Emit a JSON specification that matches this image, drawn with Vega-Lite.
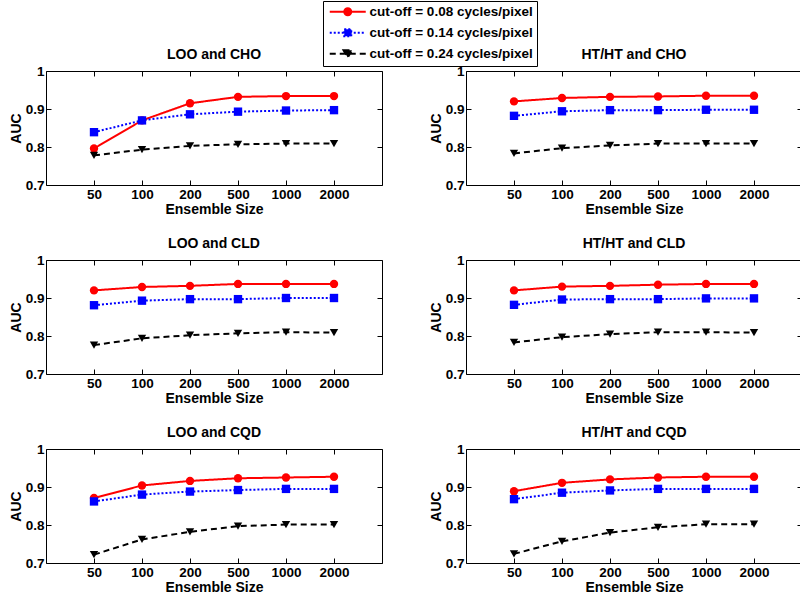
{
  "$schema": "https://vega.github.io/schema/vega-lite/v6.json",
  "padding": {"left": 8, "top": 0, "right": 0, "bottom": 0},
  "background": "white",
  "data": {"values": [
    {"panel":"LOO and CHO","cutoff":0.08,"size":50,"auc":0.796},
    {"panel":"LOO and CHO","cutoff":0.08,"size":100,"auc":0.870},
    {"panel":"LOO and CHO","cutoff":0.08,"size":200,"auc":0.915},
    {"panel":"LOO and CHO","cutoff":0.08,"size":500,"auc":0.932},
    {"panel":"LOO and CHO","cutoff":0.08,"size":1000,"auc":0.934},
    {"panel":"LOO and CHO","cutoff":0.08,"size":2000,"auc":0.934},
    {"panel":"LOO and CHO","cutoff":0.14,"size":50,"auc":0.839},
    {"panel":"LOO and CHO","cutoff":0.14,"size":100,"auc":0.870},
    {"panel":"LOO and CHO","cutoff":0.14,"size":200,"auc":0.886},
    {"panel":"LOO and CHO","cutoff":0.14,"size":500,"auc":0.893},
    {"panel":"LOO and CHO","cutoff":0.14,"size":1000,"auc":0.896},
    {"panel":"LOO and CHO","cutoff":0.14,"size":2000,"auc":0.897},
    {"panel":"LOO and CHO","cutoff":0.24,"size":50,"auc":0.778},
    {"panel":"LOO and CHO","cutoff":0.24,"size":100,"auc":0.793},
    {"panel":"LOO and CHO","cutoff":0.24,"size":200,"auc":0.803},
    {"panel":"LOO and CHO","cutoff":0.24,"size":500,"auc":0.807},
    {"panel":"LOO and CHO","cutoff":0.24,"size":1000,"auc":0.809},
    {"panel":"LOO and CHO","cutoff":0.24,"size":2000,"auc":0.809},
    {"panel":"HT/HT and CHO","cutoff":0.08,"size":50,"auc":0.920},
    {"panel":"HT/HT and CHO","cutoff":0.08,"size":100,"auc":0.929},
    {"panel":"HT/HT and CHO","cutoff":0.08,"size":200,"auc":0.932},
    {"panel":"HT/HT and CHO","cutoff":0.08,"size":500,"auc":0.933},
    {"panel":"HT/HT and CHO","cutoff":0.08,"size":1000,"auc":0.935},
    {"panel":"HT/HT and CHO","cutoff":0.08,"size":2000,"auc":0.935},
    {"panel":"HT/HT and CHO","cutoff":0.14,"size":50,"auc":0.882},
    {"panel":"HT/HT and CHO","cutoff":0.14,"size":100,"auc":0.894},
    {"panel":"HT/HT and CHO","cutoff":0.14,"size":200,"auc":0.897},
    {"panel":"HT/HT and CHO","cutoff":0.14,"size":500,"auc":0.897},
    {"panel":"HT/HT and CHO","cutoff":0.14,"size":1000,"auc":0.898},
    {"panel":"HT/HT and CHO","cutoff":0.14,"size":2000,"auc":0.898},
    {"panel":"HT/HT and CHO","cutoff":0.24,"size":50,"auc":0.783},
    {"panel":"HT/HT and CHO","cutoff":0.24,"size":100,"auc":0.797},
    {"panel":"HT/HT and CHO","cutoff":0.24,"size":200,"auc":0.804},
    {"panel":"HT/HT and CHO","cutoff":0.24,"size":500,"auc":0.809},
    {"panel":"HT/HT and CHO","cutoff":0.24,"size":1000,"auc":0.809},
    {"panel":"HT/HT and CHO","cutoff":0.24,"size":2000,"auc":0.809},
    {"panel":"LOO and CLD","cutoff":0.08,"size":50,"auc":0.920},
    {"panel":"LOO and CLD","cutoff":0.08,"size":100,"auc":0.929},
    {"panel":"LOO and CLD","cutoff":0.08,"size":200,"auc":0.932},
    {"panel":"LOO and CLD","cutoff":0.08,"size":500,"auc":0.937},
    {"panel":"LOO and CLD","cutoff":0.08,"size":1000,"auc":0.937},
    {"panel":"LOO and CLD","cutoff":0.08,"size":2000,"auc":0.937},
    {"panel":"LOO and CLD","cutoff":0.14,"size":50,"auc":0.881},
    {"panel":"LOO and CLD","cutoff":0.14,"size":100,"auc":0.893},
    {"panel":"LOO and CLD","cutoff":0.14,"size":200,"auc":0.897},
    {"panel":"LOO and CLD","cutoff":0.14,"size":500,"auc":0.897},
    {"panel":"LOO and CLD","cutoff":0.14,"size":1000,"auc":0.900},
    {"panel":"LOO and CLD","cutoff":0.14,"size":2000,"auc":0.900},
    {"panel":"LOO and CLD","cutoff":0.24,"size":50,"auc":0.776},
    {"panel":"LOO and CLD","cutoff":0.24,"size":100,"auc":0.794},
    {"panel":"LOO and CLD","cutoff":0.24,"size":200,"auc":0.802},
    {"panel":"LOO and CLD","cutoff":0.24,"size":500,"auc":0.807},
    {"panel":"LOO and CLD","cutoff":0.24,"size":1000,"auc":0.810},
    {"panel":"LOO and CLD","cutoff":0.24,"size":2000,"auc":0.809},
    {"panel":"HT/HT and CLD","cutoff":0.08,"size":50,"auc":0.920},
    {"panel":"HT/HT and CLD","cutoff":0.08,"size":100,"auc":0.930},
    {"panel":"HT/HT and CLD","cutoff":0.08,"size":200,"auc":0.932},
    {"panel":"HT/HT and CLD","cutoff":0.08,"size":500,"auc":0.935},
    {"panel":"HT/HT and CLD","cutoff":0.08,"size":1000,"auc":0.937},
    {"panel":"HT/HT and CLD","cutoff":0.08,"size":2000,"auc":0.937},
    {"panel":"HT/HT and CLD","cutoff":0.14,"size":50,"auc":0.882},
    {"panel":"HT/HT and CLD","cutoff":0.14,"size":100,"auc":0.896},
    {"panel":"HT/HT and CLD","cutoff":0.14,"size":200,"auc":0.897},
    {"panel":"HT/HT and CLD","cutoff":0.14,"size":500,"auc":0.897},
    {"panel":"HT/HT and CLD","cutoff":0.14,"size":1000,"auc":0.899},
    {"panel":"HT/HT and CLD","cutoff":0.14,"size":2000,"auc":0.899},
    {"panel":"HT/HT and CLD","cutoff":0.24,"size":50,"auc":0.783},
    {"panel":"HT/HT and CLD","cutoff":0.24,"size":100,"auc":0.797},
    {"panel":"HT/HT and CLD","cutoff":0.24,"size":200,"auc":0.805},
    {"panel":"HT/HT and CLD","cutoff":0.24,"size":500,"auc":0.810},
    {"panel":"HT/HT and CLD","cutoff":0.24,"size":1000,"auc":0.810},
    {"panel":"HT/HT and CLD","cutoff":0.24,"size":2000,"auc":0.809},
    {"panel":"LOO and CQD","cutoff":0.08,"size":50,"auc":0.871},
    {"panel":"LOO and CQD","cutoff":0.08,"size":100,"auc":0.904},
    {"panel":"LOO and CQD","cutoff":0.08,"size":200,"auc":0.916},
    {"panel":"LOO and CQD","cutoff":0.08,"size":500,"auc":0.923},
    {"panel":"LOO and CQD","cutoff":0.08,"size":1000,"auc":0.925},
    {"panel":"LOO and CQD","cutoff":0.08,"size":2000,"auc":0.927},
    {"panel":"LOO and CQD","cutoff":0.14,"size":50,"auc":0.862},
    {"panel":"LOO and CQD","cutoff":0.14,"size":100,"auc":0.880},
    {"panel":"LOO and CQD","cutoff":0.14,"size":200,"auc":0.888},
    {"panel":"LOO and CQD","cutoff":0.14,"size":500,"auc":0.892},
    {"panel":"LOO and CQD","cutoff":0.14,"size":1000,"auc":0.895},
    {"panel":"LOO and CQD","cutoff":0.14,"size":2000,"auc":0.895},
    {"panel":"LOO and CQD","cutoff":0.24,"size":50,"auc":0.722},
    {"panel":"LOO and CQD","cutoff":0.24,"size":100,"auc":0.762},
    {"panel":"LOO and CQD","cutoff":0.24,"size":200,"auc":0.782},
    {"panel":"LOO and CQD","cutoff":0.24,"size":500,"auc":0.797},
    {"panel":"LOO and CQD","cutoff":0.24,"size":1000,"auc":0.801},
    {"panel":"LOO and CQD","cutoff":0.24,"size":2000,"auc":0.801},
    {"panel":"HT/HT and CQD","cutoff":0.08,"size":50,"auc":0.889},
    {"panel":"HT/HT and CQD","cutoff":0.08,"size":100,"auc":0.911},
    {"panel":"HT/HT and CQD","cutoff":0.08,"size":200,"auc":0.920},
    {"panel":"HT/HT and CQD","cutoff":0.08,"size":500,"auc":0.925},
    {"panel":"HT/HT and CQD","cutoff":0.08,"size":1000,"auc":0.927},
    {"panel":"HT/HT and CQD","cutoff":0.08,"size":2000,"auc":0.927},
    {"panel":"HT/HT and CQD","cutoff":0.14,"size":50,"auc":0.868},
    {"panel":"HT/HT and CQD","cutoff":0.14,"size":100,"auc":0.885},
    {"panel":"HT/HT and CQD","cutoff":0.14,"size":200,"auc":0.891},
    {"panel":"HT/HT and CQD","cutoff":0.14,"size":500,"auc":0.895},
    {"panel":"HT/HT and CQD","cutoff":0.14,"size":1000,"auc":0.895},
    {"panel":"HT/HT and CQD","cutoff":0.14,"size":2000,"auc":0.895},
    {"panel":"HT/HT and CQD","cutoff":0.24,"size":50,"auc":0.724},
    {"panel":"HT/HT and CQD","cutoff":0.24,"size":100,"auc":0.757},
    {"panel":"HT/HT and CQD","cutoff":0.24,"size":200,"auc":0.780},
    {"panel":"HT/HT and CQD","cutoff":0.24,"size":500,"auc":0.794},
    {"panel":"HT/HT and CQD","cutoff":0.24,"size":1000,"auc":0.802},
    {"panel":"HT/HT and CQD","cutoff":0.24,"size":2000,"auc":0.802}
  ]},
  "columns": 2,
  "spacing": {"row": 75, "column": 84},
  "bounds": "flush",
  "concat": [
    {"title": {"text": "LOO and CHO"}, "width": 336, "height": 114,
     "transform": [{"filter": {"field": "panel", "equal": "LOO and CHO"}}],
     "layer": [
       {"encoding": {
          "x": {"field": "size", "type": "ordinal", "scale": {"type": "point", "padding": 1}, "title": "Ensemble Size", "axis": {"labelAngle": 0}},
          "y": {"field": "auc", "type": "quantitative", "scale": {"domain": [0.7, 1]}, "title": "AUC", "axis": {"values": [0.7, 0.8, 0.9, 1], "format": "~g"}},
          "color": {"field": "cutoff", "type": "nominal", "scale": {"domain": [0.08, 0.14, 0.24], "range": ["#ff0000", "#0000ff", "#000000"]},
            "legend": {"title": null, "orient": "none", "legendX": 277, "legendY": -70,
              "labelExpr": "'cut-off = ' + format(datum.value, '.2f') + ' cycles/pixel'",
              "encode": {"symbols": {"update": {
                "shape": {"signal": "datum.value == 0.08 ? 'M-3.6,0H3.6M-0.7,0A0.7,0.7,0,1,0,0.7,0A0.7,0.7,0,1,0,-0.7,0Z' : datum.value == 0.14 ? 'M-3.6,0H3.6M-0.7,-0.7H0.7V0.7H-0.7Z' : 'M-3.6,0H3.6M-0.85,-0.7H0.85L0,0.75Z'"},
                "strokeDash": {"signal": "datum.value == 0.08 ? [] : datum.value == 0.14 ? [2,2] : [6,4]"},
                "fill": {"scale": "color", "field": "value"},
                "stroke": {"scale": "color", "field": "value"}}}}}}
        },
        "layer": [
          {"mark": {"type": "line", "strokeWidth": 2}, "encoding": {"strokeDash": {"condition": [{"test": "datum.cutoff == 0.14", "value": [2, 2]}, {"test": "datum.cutoff == 0.24", "value": [6, 4]}], "value": [1, 0]}}},
          {"mark": {"type": "point", "filled": true, "opacity": 1, "size": 70}, "encoding": {"shape": {"condition": [{"test": "datum.cutoff == 0.08", "value": "circle"}, {"test": "datum.cutoff == 0.14", "value": "square"}], "value": "triangle-down"}}}
        ]},
       {"mark": {"type": "point", "opacity": 0},
        "encoding": {
          "x": {"field": "size", "type": "ordinal", "scale": {"type": "point", "padding": 1}, "axis": {"orient": "top", "labels": false, "title": null}},
          "y": {"field": "auc", "type": "quantitative", "scale": {"domain": [0.7, 1]}, "axis": {"orient": "right", "labels": false, "title": null, "values": [0.7, 0.8, 0.9, 1]}}}}
     ],
     "resolve": {"axis": {"x": "independent", "y": "independent"}}},
    {"title": {"text": "HT/HT and CHO"}, "width": 336, "height": 114,
     "transform": [{"filter": {"field": "panel", "equal": "HT/HT and CHO"}}],
     "layer": [
       {"encoding": {
          "x": {"field": "size", "type": "ordinal", "scale": {"type": "point", "padding": 1}, "title": "Ensemble Size", "axis": {"labelAngle": 0}},
          "y": {"field": "auc", "type": "quantitative", "scale": {"domain": [0.7, 1]}, "title": "AUC", "axis": {"values": [0.7, 0.8, 0.9, 1], "format": "~g"}},
          "color": {"field": "cutoff", "type": "nominal", "scale": {"domain": [0.08, 0.14, 0.24], "range": ["#ff0000", "#0000ff", "#000000"]},
            "legend": {"title": null, "orient": "none", "legendX": 277, "legendY": -70,
              "labelExpr": "'cut-off = ' + format(datum.value, '.2f') + ' cycles/pixel'",
              "encode": {"symbols": {"update": {
                "shape": {"signal": "datum.value == 0.08 ? 'M-3.6,0H3.6M-0.7,0A0.7,0.7,0,1,0,0.7,0A0.7,0.7,0,1,0,-0.7,0Z' : datum.value == 0.14 ? 'M-3.6,0H3.6M-0.7,-0.7H0.7V0.7H-0.7Z' : 'M-3.6,0H3.6M-0.85,-0.7H0.85L0,0.75Z'"},
                "strokeDash": {"signal": "datum.value == 0.08 ? [] : datum.value == 0.14 ? [2,2] : [6,4]"},
                "fill": {"scale": "color", "field": "value"},
                "stroke": {"scale": "color", "field": "value"}}}}}}
        },
        "layer": [
          {"mark": {"type": "line", "strokeWidth": 2}, "encoding": {"strokeDash": {"condition": [{"test": "datum.cutoff == 0.14", "value": [2, 2]}, {"test": "datum.cutoff == 0.24", "value": [6, 4]}], "value": [1, 0]}}},
          {"mark": {"type": "point", "filled": true, "opacity": 1, "size": 70}, "encoding": {"shape": {"condition": [{"test": "datum.cutoff == 0.08", "value": "circle"}, {"test": "datum.cutoff == 0.14", "value": "square"}], "value": "triangle-down"}}}
        ]},
       {"mark": {"type": "point", "opacity": 0},
        "encoding": {
          "x": {"field": "size", "type": "ordinal", "scale": {"type": "point", "padding": 1}, "axis": {"orient": "top", "labels": false, "title": null}},
          "y": {"field": "auc", "type": "quantitative", "scale": {"domain": [0.7, 1]}, "axis": {"orient": "right", "labels": false, "title": null, "values": [0.7, 0.8, 0.9, 1]}}}}
     ],
     "resolve": {"axis": {"x": "independent", "y": "independent"}}},
    {"title": {"text": "LOO and CLD"}, "width": 336, "height": 114,
     "transform": [{"filter": {"field": "panel", "equal": "LOO and CLD"}}],
     "layer": [
       {"encoding": {
          "x": {"field": "size", "type": "ordinal", "scale": {"type": "point", "padding": 1}, "title": "Ensemble Size", "axis": {"labelAngle": 0}},
          "y": {"field": "auc", "type": "quantitative", "scale": {"domain": [0.7, 1]}, "title": "AUC", "axis": {"values": [0.7, 0.8, 0.9, 1], "format": "~g"}},
          "color": {"field": "cutoff", "type": "nominal", "scale": {"domain": [0.08, 0.14, 0.24], "range": ["#ff0000", "#0000ff", "#000000"]},
            "legend": {"title": null, "orient": "none", "legendX": 277, "legendY": -70,
              "labelExpr": "'cut-off = ' + format(datum.value, '.2f') + ' cycles/pixel'",
              "encode": {"symbols": {"update": {
                "shape": {"signal": "datum.value == 0.08 ? 'M-3.6,0H3.6M-0.7,0A0.7,0.7,0,1,0,0.7,0A0.7,0.7,0,1,0,-0.7,0Z' : datum.value == 0.14 ? 'M-3.6,0H3.6M-0.7,-0.7H0.7V0.7H-0.7Z' : 'M-3.6,0H3.6M-0.85,-0.7H0.85L0,0.75Z'"},
                "strokeDash": {"signal": "datum.value == 0.08 ? [] : datum.value == 0.14 ? [2,2] : [6,4]"},
                "fill": {"scale": "color", "field": "value"},
                "stroke": {"scale": "color", "field": "value"}}}}}}
        },
        "layer": [
          {"mark": {"type": "line", "strokeWidth": 2}, "encoding": {"strokeDash": {"condition": [{"test": "datum.cutoff == 0.14", "value": [2, 2]}, {"test": "datum.cutoff == 0.24", "value": [6, 4]}], "value": [1, 0]}}},
          {"mark": {"type": "point", "filled": true, "opacity": 1, "size": 70}, "encoding": {"shape": {"condition": [{"test": "datum.cutoff == 0.08", "value": "circle"}, {"test": "datum.cutoff == 0.14", "value": "square"}], "value": "triangle-down"}}}
        ]},
       {"mark": {"type": "point", "opacity": 0},
        "encoding": {
          "x": {"field": "size", "type": "ordinal", "scale": {"type": "point", "padding": 1}, "axis": {"orient": "top", "labels": false, "title": null}},
          "y": {"field": "auc", "type": "quantitative", "scale": {"domain": [0.7, 1]}, "axis": {"orient": "right", "labels": false, "title": null, "values": [0.7, 0.8, 0.9, 1]}}}}
     ],
     "resolve": {"axis": {"x": "independent", "y": "independent"}}},
    {"title": {"text": "HT/HT and CLD"}, "width": 336, "height": 114,
     "transform": [{"filter": {"field": "panel", "equal": "HT/HT and CLD"}}],
     "layer": [
       {"encoding": {
          "x": {"field": "size", "type": "ordinal", "scale": {"type": "point", "padding": 1}, "title": "Ensemble Size", "axis": {"labelAngle": 0}},
          "y": {"field": "auc", "type": "quantitative", "scale": {"domain": [0.7, 1]}, "title": "AUC", "axis": {"values": [0.7, 0.8, 0.9, 1], "format": "~g"}},
          "color": {"field": "cutoff", "type": "nominal", "scale": {"domain": [0.08, 0.14, 0.24], "range": ["#ff0000", "#0000ff", "#000000"]},
            "legend": {"title": null, "orient": "none", "legendX": 277, "legendY": -70,
              "labelExpr": "'cut-off = ' + format(datum.value, '.2f') + ' cycles/pixel'",
              "encode": {"symbols": {"update": {
                "shape": {"signal": "datum.value == 0.08 ? 'M-3.6,0H3.6M-0.7,0A0.7,0.7,0,1,0,0.7,0A0.7,0.7,0,1,0,-0.7,0Z' : datum.value == 0.14 ? 'M-3.6,0H3.6M-0.7,-0.7H0.7V0.7H-0.7Z' : 'M-3.6,0H3.6M-0.85,-0.7H0.85L0,0.75Z'"},
                "strokeDash": {"signal": "datum.value == 0.08 ? [] : datum.value == 0.14 ? [2,2] : [6,4]"},
                "fill": {"scale": "color", "field": "value"},
                "stroke": {"scale": "color", "field": "value"}}}}}}
        },
        "layer": [
          {"mark": {"type": "line", "strokeWidth": 2}, "encoding": {"strokeDash": {"condition": [{"test": "datum.cutoff == 0.14", "value": [2, 2]}, {"test": "datum.cutoff == 0.24", "value": [6, 4]}], "value": [1, 0]}}},
          {"mark": {"type": "point", "filled": true, "opacity": 1, "size": 70}, "encoding": {"shape": {"condition": [{"test": "datum.cutoff == 0.08", "value": "circle"}, {"test": "datum.cutoff == 0.14", "value": "square"}], "value": "triangle-down"}}}
        ]},
       {"mark": {"type": "point", "opacity": 0},
        "encoding": {
          "x": {"field": "size", "type": "ordinal", "scale": {"type": "point", "padding": 1}, "axis": {"orient": "top", "labels": false, "title": null}},
          "y": {"field": "auc", "type": "quantitative", "scale": {"domain": [0.7, 1]}, "axis": {"orient": "right", "labels": false, "title": null, "values": [0.7, 0.8, 0.9, 1]}}}}
     ],
     "resolve": {"axis": {"x": "independent", "y": "independent"}}},
    {"title": {"text": "LOO and CQD"}, "width": 336, "height": 114,
     "transform": [{"filter": {"field": "panel", "equal": "LOO and CQD"}}],
     "layer": [
       {"encoding": {
          "x": {"field": "size", "type": "ordinal", "scale": {"type": "point", "padding": 1}, "title": "Ensemble Size", "axis": {"labelAngle": 0}},
          "y": {"field": "auc", "type": "quantitative", "scale": {"domain": [0.7, 1]}, "title": "AUC", "axis": {"values": [0.7, 0.8, 0.9, 1], "format": "~g"}},
          "color": {"field": "cutoff", "type": "nominal", "scale": {"domain": [0.08, 0.14, 0.24], "range": ["#ff0000", "#0000ff", "#000000"]},
            "legend": {"title": null, "orient": "none", "legendX": 277, "legendY": -70,
              "labelExpr": "'cut-off = ' + format(datum.value, '.2f') + ' cycles/pixel'",
              "encode": {"symbols": {"update": {
                "shape": {"signal": "datum.value == 0.08 ? 'M-3.6,0H3.6M-0.7,0A0.7,0.7,0,1,0,0.7,0A0.7,0.7,0,1,0,-0.7,0Z' : datum.value == 0.14 ? 'M-3.6,0H3.6M-0.7,-0.7H0.7V0.7H-0.7Z' : 'M-3.6,0H3.6M-0.85,-0.7H0.85L0,0.75Z'"},
                "strokeDash": {"signal": "datum.value == 0.08 ? [] : datum.value == 0.14 ? [2,2] : [6,4]"},
                "fill": {"scale": "color", "field": "value"},
                "stroke": {"scale": "color", "field": "value"}}}}}}
        },
        "layer": [
          {"mark": {"type": "line", "strokeWidth": 2}, "encoding": {"strokeDash": {"condition": [{"test": "datum.cutoff == 0.14", "value": [2, 2]}, {"test": "datum.cutoff == 0.24", "value": [6, 4]}], "value": [1, 0]}}},
          {"mark": {"type": "point", "filled": true, "opacity": 1, "size": 70}, "encoding": {"shape": {"condition": [{"test": "datum.cutoff == 0.08", "value": "circle"}, {"test": "datum.cutoff == 0.14", "value": "square"}], "value": "triangle-down"}}}
        ]},
       {"mark": {"type": "point", "opacity": 0},
        "encoding": {
          "x": {"field": "size", "type": "ordinal", "scale": {"type": "point", "padding": 1}, "axis": {"orient": "top", "labels": false, "title": null}},
          "y": {"field": "auc", "type": "quantitative", "scale": {"domain": [0.7, 1]}, "axis": {"orient": "right", "labels": false, "title": null, "values": [0.7, 0.8, 0.9, 1]}}}}
     ],
     "resolve": {"axis": {"x": "independent", "y": "independent"}}},
    {"title": {"text": "HT/HT and CQD"}, "width": 336, "height": 114,
     "transform": [{"filter": {"field": "panel", "equal": "HT/HT and CQD"}}],
     "layer": [
       {"encoding": {
          "x": {"field": "size", "type": "ordinal", "scale": {"type": "point", "padding": 1}, "title": "Ensemble Size", "axis": {"labelAngle": 0}},
          "y": {"field": "auc", "type": "quantitative", "scale": {"domain": [0.7, 1]}, "title": "AUC", "axis": {"values": [0.7, 0.8, 0.9, 1], "format": "~g"}},
          "color": {"field": "cutoff", "type": "nominal", "scale": {"domain": [0.08, 0.14, 0.24], "range": ["#ff0000", "#0000ff", "#000000"]},
            "legend": {"title": null, "orient": "none", "legendX": 277, "legendY": -70,
              "labelExpr": "'cut-off = ' + format(datum.value, '.2f') + ' cycles/pixel'",
              "encode": {"symbols": {"update": {
                "shape": {"signal": "datum.value == 0.08 ? 'M-3.6,0H3.6M-0.7,0A0.7,0.7,0,1,0,0.7,0A0.7,0.7,0,1,0,-0.7,0Z' : datum.value == 0.14 ? 'M-3.6,0H3.6M-0.7,-0.7H0.7V0.7H-0.7Z' : 'M-3.6,0H3.6M-0.85,-0.7H0.85L0,0.75Z'"},
                "strokeDash": {"signal": "datum.value == 0.08 ? [] : datum.value == 0.14 ? [2,2] : [6,4]"},
                "fill": {"scale": "color", "field": "value"},
                "stroke": {"scale": "color", "field": "value"}}}}}}
        },
        "layer": [
          {"mark": {"type": "line", "strokeWidth": 2}, "encoding": {"strokeDash": {"condition": [{"test": "datum.cutoff == 0.14", "value": [2, 2]}, {"test": "datum.cutoff == 0.24", "value": [6, 4]}], "value": [1, 0]}}},
          {"mark": {"type": "point", "filled": true, "opacity": 1, "size": 70}, "encoding": {"shape": {"condition": [{"test": "datum.cutoff == 0.08", "value": "circle"}, {"test": "datum.cutoff == 0.14", "value": "square"}], "value": "triangle-down"}}}
        ]},
       {"mark": {"type": "point", "opacity": 0},
        "encoding": {
          "x": {"field": "size", "type": "ordinal", "scale": {"type": "point", "padding": 1}, "axis": {"orient": "top", "labels": false, "title": null}},
          "y": {"field": "auc", "type": "quantitative", "scale": {"domain": [0.7, 1]}, "axis": {"orient": "right", "labels": false, "title": null, "values": [0.7, 0.8, 0.9, 1]}}}}
     ],
     "resolve": {"axis": {"x": "independent", "y": "independent"}}}
  ],
  "config": {
    "font": "Liberation Sans",
    "view": {"stroke": "black", "strokeWidth": 1},
    "title": {"font": "Liberation Sans", "fontSize": 14, "fontWeight": "bold", "color": "black", "anchor": "middle", "offset": 2},
    "axis": {"labelFont": "Liberation Sans", "labelFontSize": 13.5, "labelFontWeight": "bold", "labelColor": "black",
             "titleFont": "Liberation Sans", "titleFontSize": 14, "titleFontWeight": "bold", "titleColor": "black",
             "tickColor": "black", "tickSize": -5, "tickWidth": 1, "domain": false, "grid": false, "labelPadding": 7, "titlePadding": 2},
    "legend": {"strokeColor": "black", "fillColor": "white", "padding": 4, "symbolSize": 100, "symbolStrokeWidth": 2,
               "symbolOffset": 14, "labelOffset": 15, "labelFont": "Liberation Sans", "labelFontSize": 13.5, "labelFontWeight": "bold",
               "labelColor": "black", "rowPadding": 5, "labelLimit": 300}
  }
}
